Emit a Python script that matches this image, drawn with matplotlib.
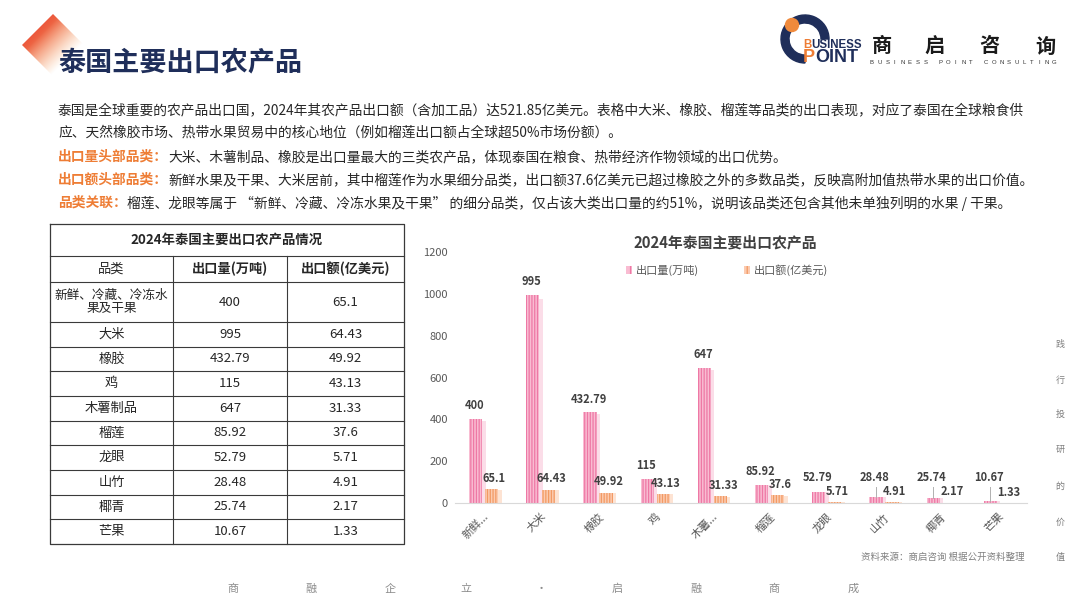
import numpy as np
import matplotlib
matplotlib.use("Agg")
import matplotlib.pyplot as plt
from matplotlib.patches import Polygon, Wedge, Circle, Patch

plt.rcParams['font.family'] = ['Noto Sans CJK SC', 'DejaVu Sans']
plt.rcParams['hatch.linewidth'] = 0.9

# ---- data ----
categories = ['新鲜、冷藏、冷冻水果及干果', '大米', '橡胶', '鸡', '木薯制品',
              '榴莲', '龙眼', '山竹', '椰青', '芒果']
tick_labels = ['新鲜...', '大米', '橡胶', '鸡', '木薯...', '榴莲', '龙眼', '山竹', '椰青', '芒果']
volume = [400, 995, 432.79, 115, 647, 85.92, 52.79, 28.48, 25.74, 10.67]   # 出口量(万吨)
value = [65.1, 64.43, 49.92, 43.13, 31.33, 37.6, 5.71, 4.91, 2.17, 1.33]   # 出口额(亿美元)
col_heads = ['品类', '出口量(万吨)', '出口额(亿美元)']
series_names = ['出口量(万吨)', '出口额(亿美元)']

NAVY = '#1f2e5a'
ORANGE = '#ee7d35'
TXT = '#262626'

W, H = 1080, 602
fig = plt.figure(figsize=(W / 100, H / 100), dpi=100)
fig.patch.set_facecolor('white')
bg = fig.add_axes([0, 0, 1, 1])
bg.axis('off')
R = fig.canvas.get_renderer()


def rich(x, y, parts, size, **kw):
    for s, color, weight in parts:
        t = bg.text(x, y, s, color=color, fontsize=size, fontweight=weight,
                    va='center', ha='left', **kw)
        x += t.get_window_extent(R).width
    return x


# gradient diamond behind the title
n = 200
gx, gy = np.meshgrid(np.linspace(22, 84, n), np.linspace(14, 76, n))
t = np.clip((gx + gy - 67) / 62, 0, 1)
c0 = np.array([236, 88, 60]) / 255; c1 = np.array([248, 170, 100]) / 255
img = np.zeros((n, n, 4))
img[..., :3] = c0 + (c1 - c0) * t[..., None]
img[..., 3] = np.clip(1.15 - 1.2 * t, 0, 1)
im = bg.imshow(img, extent=(22, 84, 76, 14), aspect='auto', zorder=1)
dia = Polygon([(53, 14), (22, 45), (53, 76), (84, 45)], closed=True, transform=bg.transData,
              facecolor='none', edgecolor='none')
bg.add_patch(dia)
im.set_clip_path(dia)

bg.text(58, 62, '泰国主要出口农产品', fontsize=19.5, fontweight='bold', color=NAVY,
        va='center', ha='left', zorder=3)

# logo
bg.add_patch(Wedge((805, 39), 24, 90, 360, width=8, color=NAVY, zorder=3))
bg.add_patch(Circle((792, 25), 6.5, color='#f08a3c', zorder=4))
rich(803, 45, [('B', ORANGE, 'bold'), ('USINESS', NAVY, 'bold')], 8.3, family='Liberation Sans', zorder=4)
rich(803, 58, [('P', ORANGE, 'bold'), ('OINT', NAVY, 'bold')], 13, family='Liberation Sans', zorder=4)
for ch, cx in zip('商启咨询', [882, 934, 989, 1045]):
    bg.text(cx, 46, ch, fontsize=14.5, fontweight='bold', color='#1a1a1a', ha='center', va='center')
for i, ch in enumerate('BUSINESS POINT CONSULTING'):
    bg.text(872 + i * 7.6, 63, ch, fontsize=4.3, color='#333333', ha='center', va='center',
            family='Liberation Sans')

# paragraph
FS = 9.9
rich(58, 110, [('泰国是全球重要的农产品出口国，2024年其农产品出口额（含加工品）达521.85亿美元。'
                '表格中大米、橡胶、榴莲等品类的出口表现，对应了泰国在全球粮食供', TXT, 'normal')], FS)
rich(58, 133, [('应、天然橡胶市场、热带水果贸易中的核心地位（例如榴莲出口额占全球超50%市场份额）。', TXT, 'normal')], FS)
rich(58, 157, [('出口量头部品类：', ORANGE, 'bold'),
               ('大米、木薯制品、橡胶是出口量最大的三类农产品，体现泰国在粮食、热带经济作物领域的出口优势。', TXT, 'normal')], FS)
rich(58, 180, [('出口额头部品类：', ORANGE, 'bold'),
               ('新鲜水果及干果、大米居前，其中榴莲作为水果细分品类，出口额37.6亿美元已超过橡胶之外的多数品类，'
                '反映高附加值热带水果的出口价值。', TXT, 'normal')], FS)
rich(58, 203, [('品类关联：', ORANGE, 'bold'),
               ('榴莲、龙眼等属于 “新鲜、冷藏、冷冻水果及干果” 的细分品类，仅占该大类出口量的约51%，'
                '说明该品类还包含其他未单独列明的水果 / 干果。', TXT, 'normal')], FS)

# table
xs = [50, 173, 287, 404]
ys = [224, 256, 282, 322] + list(np.linspace(322, 544, 10)[1:])
LC = '#3a3a3a'
bg.plot([xs[0], xs[-1], xs[-1], xs[0], xs[0]], [ys[0], ys[0], ys[-1], ys[-1], ys[0]], color=LC, lw=0.9)
for y in ys[1:-1]:
    bg.plot([xs[0], xs[-1]], [y, y], color=LC, lw=0.8)
for x in xs[1:-1]:
    bg.plot([x, x], [ys[1], ys[-1]], color=LC, lw=0.8)
bg.text((xs[0] + xs[-1]) / 2, (ys[0] + ys[1]) / 2, '2024年泰国主要出口农产品情况',
        fontsize=9.6, fontweight='bold', color=TXT, ha='center', va='center')
for j, h in enumerate(col_heads):
    bg.text((xs[j] + xs[j + 1]) / 2, (ys[1] + ys[2]) / 2, h, fontsize=9.5,
            fontweight='normal' if j == 0 else 'bold', color=TXT, ha='center', va='center')
for i, (name, v1, v2) in enumerate(zip(categories, volume, value)):
    yc = (ys[2 + i] + ys[3 + i]) / 2
    label = name if len(name) <= 9 else name[:9] + '\n' + name[9:]
    for j, s in enumerate([label, f'{v1:g}', f'{v2:g}']):
        bg.text((xs[j] + xs[j + 1]) / 2, yc, s, fontsize=9.1 if '\n' in s else 9.5, color=TXT,
                ha='center', va='center', linespacing=1.0)

# chart
bg.text(725, 242, '2024年泰国主要出口农产品', fontsize=10.7, fontweight='bold', color='#404040',
        ha='center', va='center')
bg.text(1025, 557, '资料来源：商启咨询 根据公开资料整理', fontsize=6.8, color='#808080',
        ha='right', va='center')

ax = fig.add_axes([455 / W, 1 - 503 / H, 572 / W, (503 - 252) / H])
ax.patch.set_alpha(0)
x = np.arange(len(categories))
PINK_F, PINK_H, PINK_S = '#f9bcd2', '#ee78a5', '#fbdde8'
ORG_F, ORG_H, ORG_S = '#fccbb0', '#f29a64', '#fde3d3'
bw, off = 0.23, 0.14
ax.bar(x - off + bw / 2 + 0.03, np.array(volume) * 0.98, 0.06, color=PINK_S, zorder=1)
ax.bar(x + off + bw / 2 + 0.03, np.array(value) * 0.95, 0.06, color=ORG_S, zorder=1)
ax.bar(x - off, volume, bw, color=PINK_F, edgecolor=PINK_H, hatch='||||||', lw=0, zorder=2)
ax.bar(x + off, value, bw, color=ORG_F, edgecolor=ORG_H, hatch='||||||', lw=0, zorder=2)

for xi, v in zip(x, volume):
    yl = max(v, 60)
    ax.annotate(f'{v:g}', (xi - off, yl), xytext=(-1, 5), textcoords='offset points',
                ha='center', va='bottom', fontsize=8, fontweight='bold', color='#404040')
    if v < 50:
        ax.plot([xi - off, xi - off], [v, 78], color='#b0b0b0', lw=0.7, zorder=3)
for xi, v in zip(x, value):
    ax.annotate(f'{v:g}', (xi + off, v), xytext=(2, 3), textcoords='offset points',
                ha='center', va='bottom', fontsize=8, fontweight='bold', color='#404040')

ax.set_xlim(-0.5, len(categories) - 0.5)
ax.set_ylim(0, 1200)
ax.set_yticks(range(0, 1201, 200))
ax.set_xticks(x)
ax.set_xticklabels(tick_labels, rotation=45, ha='right', va='top', rotation_mode='anchor')
ax.tick_params(axis='both', length=0, labelsize=8, colors='#595959')
ax.tick_params(axis='y', pad=5)
ax.tick_params(axis='x', pad=6)
for s in ['top', 'right', 'left']:
    ax.spines[s].set_visible(False)
ax.spines['bottom'].set_color('#d9d9d9')

handles = [Patch(facecolor=PINK_F, edgecolor=PINK_H, hatch='|||', lw=0),
           Patch(facecolor=ORG_F, edgecolor=ORG_H, hatch='|||', lw=0)]
fig.legend(handles, series_names, loc='center', bbox_to_anchor=(727 / W, 1 - 270 / H), ncol=2,
           frameon=False, fontsize=8, handlelength=0.55, handleheight=0.8, handletextpad=0.4,
           columnspacing=4, labelcolor='#595959')

# footer and side text
for ch, cx in zip('商融企立·启融商成', [233, 311, 390, 466, 541, 617, 696, 774, 853]):
    bg.text(cx, 589, ch, fontsize=8, color='#8c8c8c', ha='center', va='center', fontweight='light')
for ch, cy in zip('践行投研的价值', [345, 380, 414, 449, 486, 522, 557]):
    bg.text(1060, cy, ch, fontsize=6.5, color='#7f7f7f', ha='center', va='center')

bg.set_xlim(0, W)
bg.set_ylim(H, 0)
fig.savefig('out.png', dpi=100)
